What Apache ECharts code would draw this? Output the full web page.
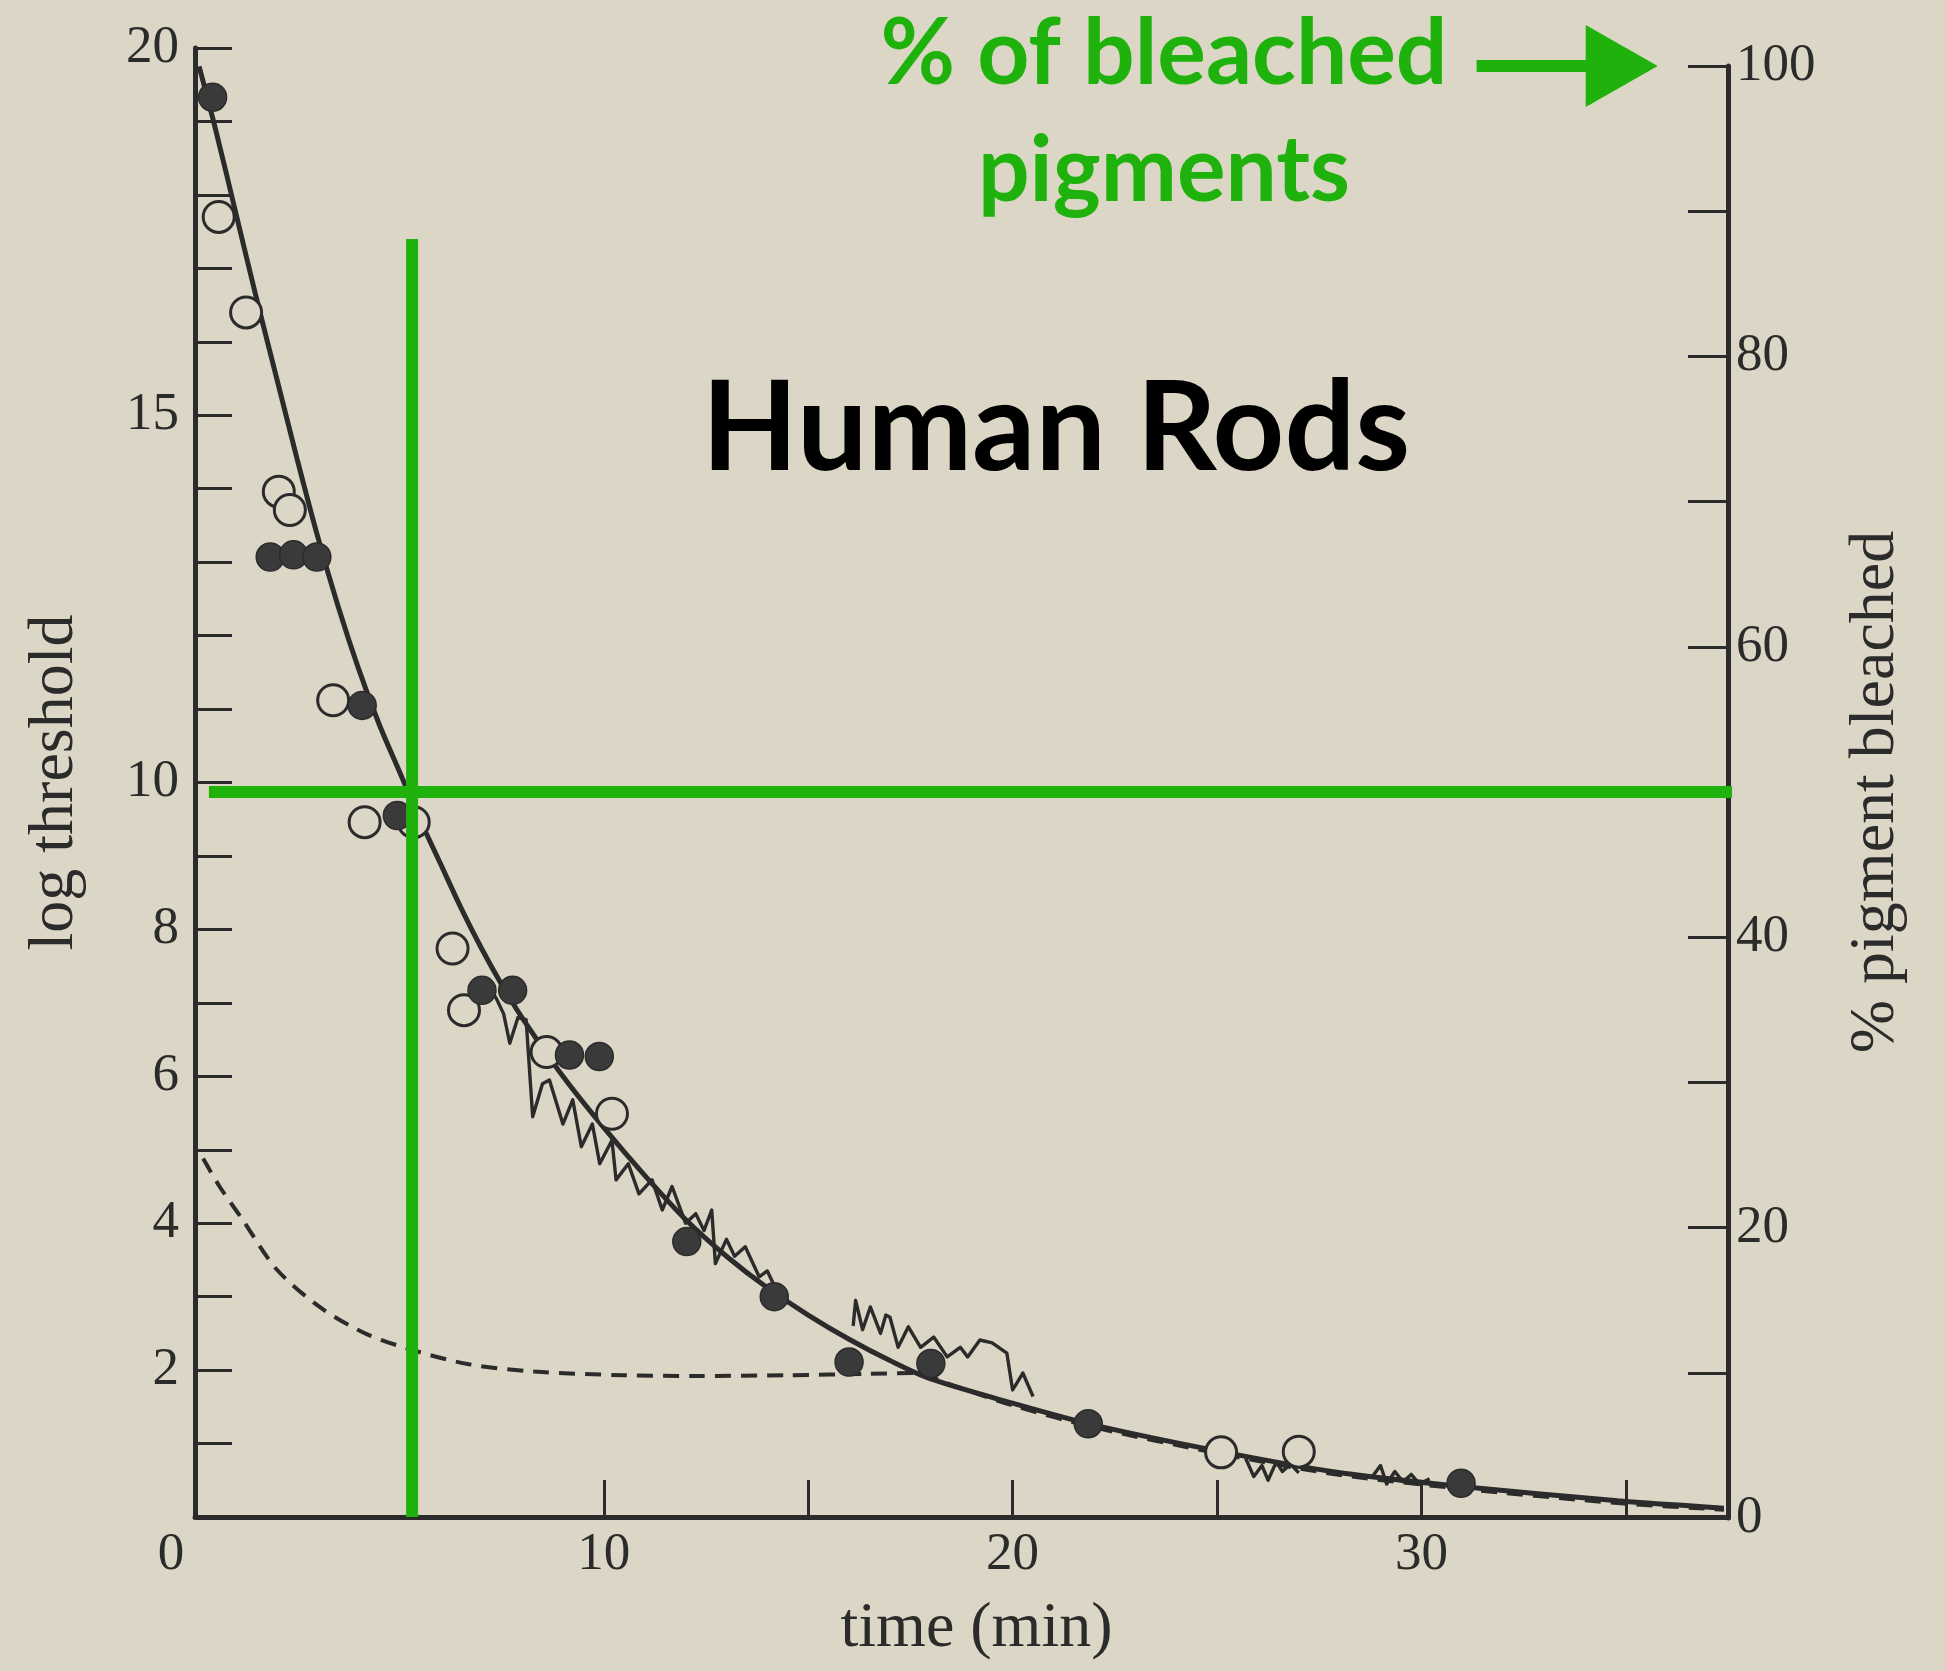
<!DOCTYPE html>
<html>
<head>
<meta charset="utf-8">
<script src="https://cdn.jsdelivr.net/npm/echarts@6/dist/echarts.min.js"></script>
<style>
  html, body { margin: 0; padding: 0; background: #dcd6c6; }
  #chart { width: 1946px; height: 1671px; }
</style>
</head>
<body>
<div id="chart"></div>
<script>
// Dark adaptation of human rods: log threshold (left axis) and
// % of rhodopsin still bleached (right axis) against time in the dark.

const xTickValues = [10, 15, 20, 25, 30, 35];
const xLabelValues = [0, 10, 20, 30];
const leftTickValues = [1, 2, 3, 4, 5, 6, 7, 8, 9, 10, 11, 12, 13, 14, 15, 16, 17, 18, 19, 20];
const leftLabelValues = [2, 4, 6, 8, 10, 15, 20];
const rightTickValues = [10, 20, 30, 40, 50, 60, 70, 80, 90, 100];
const rightLabelValues = [0, 20, 40, 60, 80, 100];

// smooth threshold curve (min, log threshold)
const thresholdCurve = [
  [0.1, 19.75], [0.5, 18.9], [1.0, 17.75], [1.5, 16.6], [2.0, 15.5], [2.5, 14.4],
  [3.0, 13.35], [3.5, 12.4], [4.0, 11.55], [4.5, 10.8], [5.0, 10.15], [5.5, 9.5],
  [6.0, 8.9], [6.5, 8.3], [7.0, 7.75], [7.5, 7.25], [8.0, 6.8], [9.0, 6.0],
  [10.0, 5.3], [11.0, 4.65], [12.0, 4.05], [13.0, 3.55], [14.0, 3.12], [15.0, 2.75],
  [16.0, 2.42], [17.0, 2.13], [18.0, 1.88], [20.0, 1.55], [22.0, 1.25], [25.0, 0.9],
  [27.8, 0.62], [30.9, 0.42], [34.8, 0.22], [37.4, 0.12]
];

// dashed curve (cone branch joining the rod curve)
const dashedCurve = [
  [0.2, 4.88], [0.6, 4.5], [1.15, 4.06], [2.0, 3.37], [3.1, 2.84], [4.2, 2.49],
  [5.4, 2.26], [6.7, 2.08], [8.3, 1.98], [10.5, 1.93], [12.2, 1.92], [14.5, 1.93],
  [16.5, 1.95], [17.6, 1.96], [18.5, 1.8], [20.0, 1.52], [22.0, 1.22], [25.0, 0.87],
  [27.8, 0.59], [30.9, 0.39], [34.8, 0.19], [37.4, 0.1]
];

// subject 1 (filled circles)
const filledPoints = [
  [0.43, 19.33], [1.84, 13.07], [2.41, 13.1], [2.98, 13.07], [4.09, 11.05],
  [4.95, 9.55], [7.02, 7.17], [7.77, 7.17], [9.16, 6.29], [9.89, 6.27],
  [12.03, 3.75], [14.17, 3.0], [16.0, 2.11], [18.0, 2.09], [21.85, 1.27], [30.97, 0.46]
];

// subject 2 (open circles)
const openPoints = [
  [0.58, 17.7], [1.25, 16.4], [2.05, 13.96], [2.32, 13.71], [3.38, 11.12],
  [4.15, 9.46], [5.35, 9.46], [6.3, 7.74], [6.58, 6.9], [8.6, 6.33],
  [10.2, 5.49], [25.1, 0.88], [27.0, 0.89]
];

// densitometer recordings of rhodopsin regeneration
const traceEarly = [
  [7.1, 7.3], [7.38, 7.05], [7.55, 6.85], [7.7, 6.45], [7.9, 6.8], [8.1, 6.77],
  [8.26, 5.45], [8.5, 5.9], [8.67, 5.95], [9.0, 5.35], [9.24, 5.68], [9.45, 5.04],
  [9.72, 5.35], [9.9, 4.81], [10.2, 5.13], [10.3, 4.59], [10.6, 4.81], [10.86, 4.4],
  [11.18, 4.59], [11.43, 4.18], [11.67, 4.5], [12.0, 4.0], [12.25, 4.13], [12.45, 3.9],
  [12.64, 4.18], [12.73, 3.45], [13.0, 3.78], [13.2, 3.55], [13.46, 3.68], [13.8, 3.27],
  [14.0, 3.35], [14.3, 3.0]
];
const traceMiddle = [
  [16.1, 2.6], [16.16, 2.95], [16.33, 2.55], [16.52, 2.86], [16.77, 2.5], [16.9, 2.75],
  [17.0, 2.72], [17.2, 2.31], [17.45, 2.59], [17.75, 2.31], [18.07, 2.45], [18.4, 2.18],
  [18.72, 2.31], [18.9, 2.18], [19.2, 2.41], [19.5, 2.37], [19.86, 2.23], [20.0, 1.73],
  [20.1, 1.82], [20.25, 1.96], [20.5, 1.64]
];
const traceLateA = [
  [25.7, 0.8], [25.9, 0.55], [26.1, 0.7], [26.25, 0.5], [26.45, 0.75], [26.6, 0.62],
  [26.8, 0.72], [27.0, 0.6]
];
const traceLateB = [
  [28.8, 0.55], [29.0, 0.7], [29.15, 0.45], [29.35, 0.62], [29.55, 0.48], [29.75, 0.58],
  [29.95, 0.45], [30.2, 0.52]
];

// half-bleach guides (time on the left-axis grid, % on the right-axis grid)
const halfBleachTime = [[5.31, 0], [5.31, 17.4]];
const halfBleachLevel = [[0.34, 50], [37.6, 50]];
const arrowFrom = [31.35, 100];
const arrowTo = [34.9, 100];

const BG = '#dcd6c6';
const INK = '#2b2b2b';
const GREEN = '#20b20c';
const SERIF = '"Liberation Serif", "Times New Roman", serif';
const SANS = 'Lato, "Noto Sans", sans-serif';

const chart = echarts.init(document.getElementById('chart'), null, { renderer: 'canvas' });

const X_MAX = 37.5;
const gridBox = { left: 195, right: 218 };

function xAxisCfg(gridIndex, visible) {
  return {
    type: 'value', gridIndex, min: 0, max: X_MAX, show: visible,
    name: visible ? 'time (min)' : '',
    nameLocation: 'middle', nameGap: 80,
    nameTextStyle: { fontFamily: SERIF, fontSize: 64, color: INK, padding: [0, 0, 0, 30] },
    axisLine: { show: true, onZero: false, lineStyle: { color: INK, width: 5 } },
    axisTick: { show: true, inside: true, length: 37, customValues: xTickValues,
      lineStyle: { color: INK, width: 3 } },
    axisLabel: {
      show: true, customValues: xLabelValues, margin: 12,
      fontFamily: SERIF, fontSize: 53, color: INK,
      formatter: v => (v === 0 ? '{z|0}' : String(v)),
      rich: { z: { fontFamily: SERIF, fontSize: 53, color: INK, padding: [0, 48, 0, 0] } }
    },
    splitLine: { show: false }
  };
}

const option = {
  backgroundColor: BG,
  animation: false,
  grid: [
    { left: gridBox.left, right: gridBox.right, top: 48, bottom: 154 },
    { left: gridBox.left, right: gridBox.right, top: 66, bottom: 153 }
  ],
  xAxis: [xAxisCfg(0, true), xAxisCfg(1, false)],
  yAxis: [
    {
      type: 'value', gridIndex: 0, position: 'left', min: 0, max: 20,
      name: 'log threshold', nameLocation: 'middle', nameRotate: 90, nameGap: 108,
      nameTextStyle: { fontFamily: SERIF, fontSize: 64, color: INK },
      axisLine: { show: true, onZero: false, lineStyle: { color: INK, width: 5 } },
      axisTick: { show: true, inside: true, length: 37, customValues: leftTickValues,
        lineStyle: { color: INK, width: 3 } },
      axisLabel: { customValues: leftLabelValues, margin: 16,
        fontFamily: SERIF, fontSize: 53, color: INK },
      splitLine: { show: false }
    },
    {
      type: 'value', gridIndex: 1, position: 'right', min: 0, max: 100,
      name: '% pigment bleached', nameLocation: 'middle', nameRotate: 90, nameGap: 116,
      nameTextStyle: { fontFamily: SERIF, fontSize: 64, color: INK },
      axisLine: { show: true, onZero: false, lineStyle: { color: INK, width: 5 } },
      axisTick: { show: true, inside: true, length: 40, customValues: rightTickValues,
        lineStyle: { color: INK, width: 3 } },
      axisLabel: { customValues: rightLabelValues, margin: 8,
        fontFamily: SERIF, fontSize: 53, color: INK },
      splitLine: { show: false }
    }
  ],
  graphic: [
    {
      type: 'text', z: 50,
      style: { text: 'Human Rods', x: 1056, y: 430, textAlign: 'center', textVerticalAlign: 'middle',
        font: 'bold 125px ' + SANS, fill: '#000' }
    },
    {
      type: 'text', z: 50,
      style: { text: '% of bleached', x: 1164, y: 55, textAlign: 'center', textVerticalAlign: 'middle',
        font: 'bold 91px ' + SANS, fill: GREEN }
    },
    {
      type: 'text', z: 50,
      style: { text: 'pigments', x: 1164, y: 172, textAlign: 'center', textVerticalAlign: 'middle',
        font: 'bold 91px ' + SANS, fill: GREEN }
    }
  ],
  series: [
    {
      name: 'dashed', type: 'line', xAxisIndex: 0, yAxisIndex: 0, data: dashedCurve,
      smooth: 0.3, showSymbol: false, symbol: 'none', z: 2,
      lineStyle: { color: INK, width: 4, type: [16, 10] }
    },
    {
      name: 'threshold', type: 'line', xAxisIndex: 0, yAxisIndex: 0, data: thresholdCurve,
      smooth: 0.3, showSymbol: false, symbol: 'none', z: 3,
      lineStyle: { color: INK, width: 5 }
    },
    ...[traceEarly, traceMiddle, traceLateA, traceLateB].map(d => ({
      type: 'line', xAxisIndex: 0, yAxisIndex: 0, data: d, showSymbol: false, symbol: 'none', z: 4,
      lineStyle: { color: INK, width: 3.4, join: 'round' }
    })),
    {
      name: 'open', type: 'scatter', xAxisIndex: 0, yAxisIndex: 0, data: openPoints, z: 5,
      symbol: 'circle', symbolSize: 31,
      itemStyle: { color: BG, borderColor: INK, borderWidth: 3, opacity: 1 }
    },
    {
      name: 'filled', type: 'scatter', xAxisIndex: 0, yAxisIndex: 0, data: filledPoints, z: 6,
      symbol: 'circle', symbolSize: 28,
      itemStyle: { color: '#3a3a3a', borderColor: INK, borderWidth: 1.5, opacity: 1 }
    },
    {
      type: 'line', xAxisIndex: 0, yAxisIndex: 0, data: halfBleachTime, z: 10,
      showSymbol: false, symbol: 'none', lineStyle: { color: GREEN, width: 12 }
    },
    {
      type: 'line', xAxisIndex: 1, yAxisIndex: 1, data: halfBleachLevel, z: 10, clip: false,
      showSymbol: false, symbol: 'none', lineStyle: { color: GREEN, width: 12 }
    },
    {
      type: 'line', xAxisIndex: 1, yAxisIndex: 1, data: [], clip: false, z: 10,
      markLine: {
        silent: true, animation: false,
        symbol: ['none', 'triangle'], symbolSize: [82, 72],
        lineStyle: { color: GREEN, width: 12, type: 'solid' },
        label: { show: false },
        data: [[{ coord: arrowFrom }, { coord: arrowTo }]]
      }
    }
  ]
};

chart.setOption(option);
</script>
</body>
</html>
